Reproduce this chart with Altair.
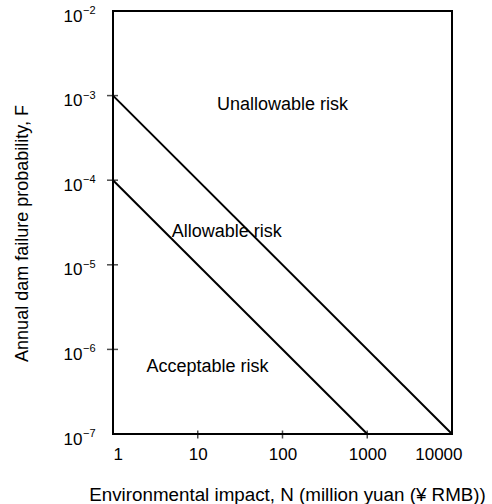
import altair as alt
import pandas as pd

# --- data -----------------------------------------------------------
upper_N = [1, 10000]
upper_F = [1e-3, 1e-7]
lower_N = [1, 1000]
lower_F = [1e-4, 1e-7]

x_ticks = [1, 10, 100, 1000, 10000]
y_ticks = [1e-7, 1e-6, 1e-5, 1e-4, 1e-3, 1e-2]
y_exponents = ["\u22127", "\u22126", "\u22125", "\u22124", "\u22123", "\u22122"]

region_labels = ["Unallowable risk", "Allowable risk", "Acceptable risk"]
region_N = [100, 22, 13]
region_F = [7.8e-4, 2.45e-5, 6.2e-7]

# --- tables ---------------------------------------------------------
lines_df = pd.concat([
    pd.DataFrame({"N": upper_N, "F": upper_F, "series": "upper"}),
    pd.DataFrame({"N": lower_N, "F": lower_F, "series": "lower"}),
])
text_df = pd.DataFrame({"N": region_N, "F": region_F, "label": region_labels})
exp_df = pd.DataFrame({"F": y_ticks, "exp": y_exponents, "N": [1] * len(y_ticks)})
xtick_df = pd.DataFrame({"N": x_ticks[1:-1]})
ytick_df = pd.DataFrame({"F": y_ticks[1:-1]})

FONT = "Liberation Sans"

xscale = alt.Scale(type="log", domain=[1, 10000], nice=False)
yscale = alt.Scale(type="log", domain=[1e-7, 1e-2], nice=False)

xaxis = alt.Axis(
    values=x_ticks, format="d", domain=False, grid=False,
    offset=-3, tickSize=7, tickOpacity=0,
    labelOffset={"condition": {"test": "datum.value >= 10000", "value": 10}, "value": 0},
    labelFontSize=17, labelFont=FONT, labelColor="black", labelPadding=8,
    title="Environmental impact, N (million yuan (\u00a5 RMB))",
    titleFont=FONT, titleFontSize=18.8, titleFontWeight="normal", titleColor="black",
    titleX=174, titleY=63, titleBaseline="middle", titleAnchor="middle",
)
yaxis = alt.Axis(
    values=y_ticks, labelExpr="'10'", domain=False, grid=False,
    offset=-3, tickSize=10, tickOpacity=0,
    labelFontSize=17, labelFont=FONT, labelColor="black", labelPadding=24,
    labelOffset=5, labelBaseline="middle",
    title="Annual dam failure probability, F",
    titleFont=FONT, titleFontSize=18, titleFontWeight="normal", titleColor="black",
    titleX=-94, titleY=222, titleBaseline="middle", titleAnchor="middle", titleAngle=-90,
)

lines = alt.Chart(lines_df).mark_line(color="black", strokeWidth=2).encode(
    x=alt.X("N:Q", scale=xscale, axis=xaxis),
    y=alt.Y("F:Q", scale=yscale, axis=yaxis),
    detail="series:N",
)

xticks = alt.Chart(xtick_df).mark_tick(
    color="black", orient="vertical", size=8, thickness=1.5, yOffset=0.5
).encode(
    x=alt.X("N:Q", scale=xscale),
    y=alt.datum(1e-7, scale=yscale),
)

yticks = alt.Chart(ytick_df).mark_tick(
    color="black", orient="horizontal", size=11, thickness=1.5, xOffset=-0.5
).encode(
    x=alt.datum(1, scale=xscale),
    y=alt.Y("F:Q", scale=yscale),
)

regions = alt.Chart(text_df).mark_text(
    font=FONT, fontSize=18, color="black", align="center", baseline="middle"
).encode(
    x=alt.X("N:Q", scale=xscale),
    y=alt.Y("F:Q", scale=yscale),
    text="label:N",
)

exps = alt.Chart(exp_df).mark_text(
    font=FONT, fontSize=11, color="black", align="left", baseline="middle", dx=-30, dy=0
).encode(
    x=alt.X("N:Q", scale=xscale),
    y=alt.Y("F:Q", scale=yscale),
    text="exp:N",
)

chart = alt.layer(lines, xticks, yticks, regions, exps).properties(
    width=339, height=423,
    autosize=alt.AutoSizeParams(type="none"),
    padding={"left": 113, "top": 11, "right": 40, "bottom": 70},
).configure(background="white").configure_view(stroke="black", strokeWidth=2)

chart.save("out.html", embed_options={"renderer": "svg", "actions": False})
